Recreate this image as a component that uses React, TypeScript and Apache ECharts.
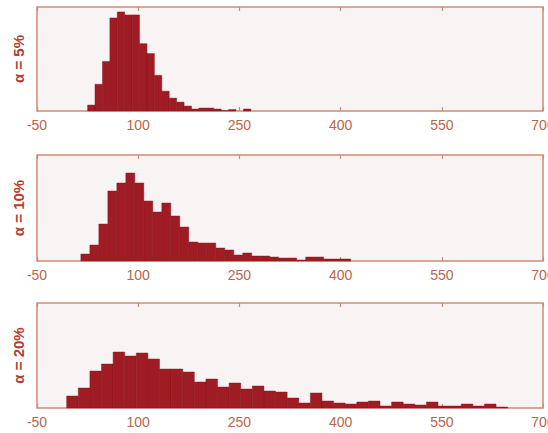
import React, { useEffect, useRef } from "react";
import * as echarts from "echarts";

// x-axis ticks
const xTicks = [-50, 100, 250, 400, 550, 700];

// panel labels
const panelLabels = ["α = 5%", "α = 10%", "α = 20%"];

// α = 5% histogram
const binStart5 = 25;
const binWidth5 = 11;
const counts5 = [6, 27, 50, 94, 100, 97, 97, 68, 58, 36, 20, 13, 9, 5, 2, 3, 3, 2, 0.5, 1.5, 0, 2];

// α = 10% histogram
const binStart10 = 15;
const binWidth10 = 13.33;
const counts10 = [7, 16, 37, 70, 78, 88, 78, 60, 49, 58, 45, 34, 19, 18, 18, 13, 11, 6, 8, 5, 5, 4, 3, 3, 1, 4, 4, 2, 2, 2];

// α = 20% histogram
const binStart20 = -6;
const binWidth20 = 17.2;
const counts20 = [12, 20, 37, 44, 56, 52, 55, 49, 39, 39, 36, 26, 29, 21, 25, 19, 22, 17, 16, 10, 5, 15, 7, 5, 4, 6, 7, 2, 6, 4, 3, 6, 2, 2, 4, 2, 4, 1];

const yMaxes = [105, 106, 105];

const FRAME = "#d08a72";
const LABEL = "#b8664c";
const NAME = "#b23c30";
const BAR = "#9f1c25";
const FONT = "'Liberation Sans', Arial, sans-serif";

export default function App() {
  const ref = useRef<HTMLDivElement>(null);
  useEffect(() => {
    if (!ref.current) return;
    const chart = echarts.init(ref.current, null, { renderer: "svg" });
    const panels = [
      { start: binStart5, w: binWidth5, counts: counts5 },
      { start: binStart10, w: binWidth10, counts: counts10 },
      { start: binStart20, w: binWidth20, counts: counts20 },
    ];
    const tops = [7, 155, 303];
    const heights = [104, 106, 105];
    const grid = tops.map((t, i) => ({
      left: 37,
      right: 5,
      top: t,
      height: heights[i],
      containLabel: false,
      outerBoundsMode: "none",
      show: true,
      backgroundColor: "#f8f4f4",
      borderColor: FRAME,
      borderWidth: 1.5,
    }));
    const xAxis: any[] = [];
    const yAxis: any[] = [];
    const series: any[] = [];
    panels.forEach((p, i) => {
      const base = {
        type: "value",
        gridIndex: i,
        min: xTicks[0],
        max: xTicks[xTicks.length - 1],
        interval: xTicks[1] - xTicks[0],
        splitLine: { show: false },
        axisLine: { show: false },
        axisTick: { show: true, inside: true, length: 4, lineStyle: { color: FRAME, width: 1.2 } },
      };
      xAxis.push({
        ...base,
        position: "bottom",
        axisLabel: { show: true, color: LABEL, fontSize: 14, fontFamily: FONT, margin: 7, hideOverlap: false },
      });
      xAxis.push({
        ...base,
        position: "top",
        axisLabel: { show: false },
      });
      yAxis.push({
        type: "value",
        gridIndex: i,
        min: 0,
        max: yMaxes[i],
        axisLine: { show: false },
        axisTick: { show: false },
        axisLabel: { show: false },
        splitLine: { show: false },
        name: panelLabels[i],
        nameLocation: "middle",
        nameRotate: 90,
        nameGap: 11,
        nameTextStyle: { color: NAME, fontSize: 15, fontWeight: "bold", fontFamily: FONT },
      });
      const data = p.counts.map((c, k) => [p.start + k * p.w, p.start + (k + 1) * p.w, c]);
      series.push({
        type: "custom",
        xAxisIndex: i * 2,
        yAxisIndex: i,
        data,
        encode: { x: [0, 1], y: 2 },
        renderItem: (params: any, api: any) => {
          const x0 = api.value(0);
          const x1 = api.value(1);
          const h = api.value(2);
          if (!h) return null;
          const p0 = api.coord([x0, h]);
          const p1 = api.coord([x1, 0]);
          return {
            type: "rect",
            shape: { x: p0[0], y: p0[1], width: p1[0] - p0[0], height: p1[1] - p0[1] },
            style: { fill: BAR, stroke: "rgba(130,15,25,0.7)", lineWidth: 0.6 },
          };
        },
      });
    });
    chart.setOption({
      animation: false,
      backgroundColor: "#ffffff",
      grid,
      xAxis,
      yAxis,
      series,
    });
    return () => chart.dispose();
  }, []);
  return (
    <div
      ref={ref}
      style={{ position: "fixed", left: 0, top: 0, width: 548, height: 433 }}
    />
  );
}
